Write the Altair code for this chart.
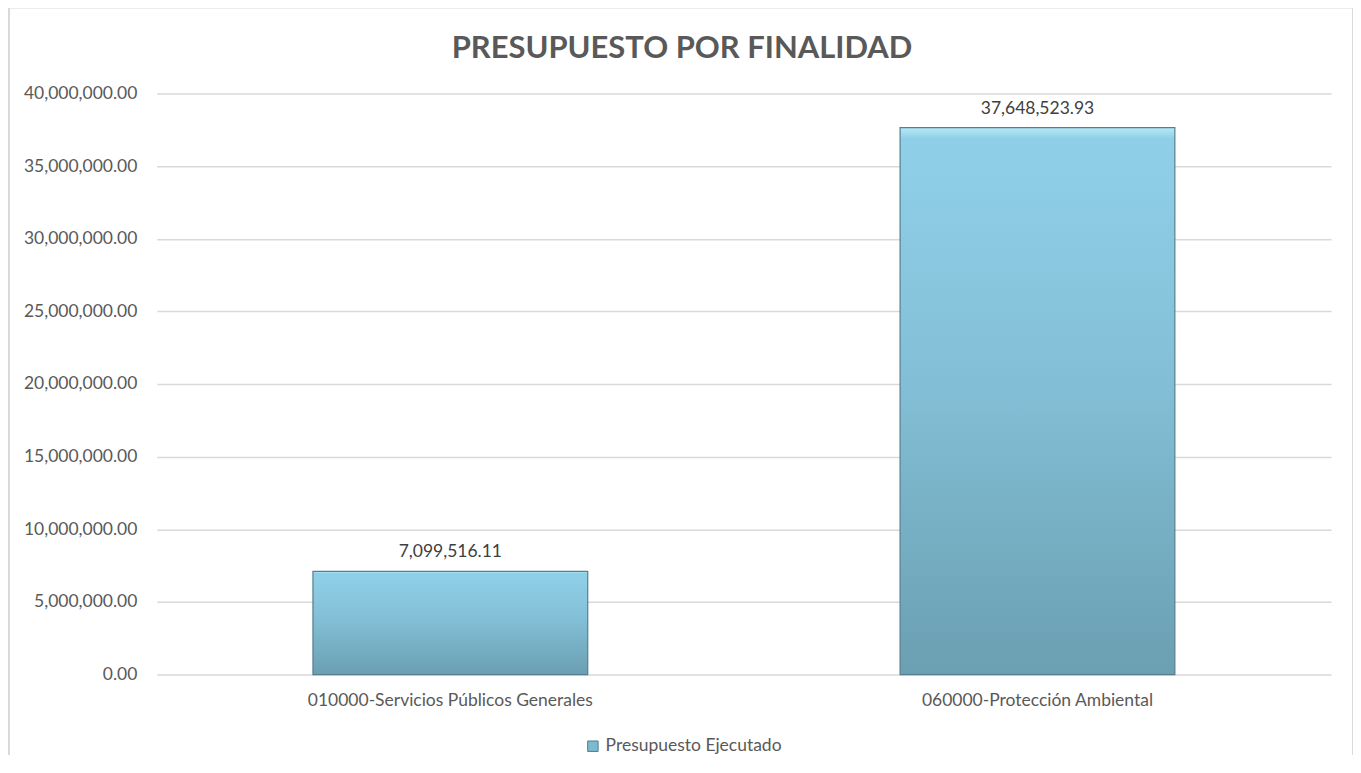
import altair as alt
import pandas as pd

categories = ["010000-Servicios Públicos Generales", "060000-Protección Ambiental"]
values = [7099516.11, 37648523.93]
series = ["Presupuesto Ejecutado", "Presupuesto Ejecutado"]
y_ticks = [0, 5000000, 10000000, 15000000, 20000000, 25000000, 30000000, 35000000, 40000000]
title_text = "PRESUPUESTO POR FINALIDAD"

df = pd.DataFrame({"categoria": categories, "valor": values, "serie": series})

FONT = "Lato"
FS = 17.5
W, H = 1176, 582

grad = alt.LinearGradient(
    gradient="linear", x1=0, y1=0, x2=0, y2=1,
    stops=[
        alt.GradientStop(color="#b5eaf7", offset=0),
        alt.GradientStop(color="#8fd0e8", offset=0.02),
        alt.GradientStop(color="#83c0d7", offset=0.45),
        alt.GradientStop(color="#6b9fb2", offset=1),
    ],
)

x = alt.X("categoria:N", sort=categories, title=None,
          scale=alt.Scale(paddingInner=0.532, paddingOuter=0.266),
          axis=alt.Axis(labelAngle=0, labelFontSize=FS, labelColor="#595959",
                        labelFont=FONT, domain=False, ticks=False, labelPadding=17,
                        labelLimit=600, grid=False))
y = alt.Y("valor:Q", title=None,
          scale=alt.Scale(domain=[0, 40000000], nice=False),
          axis=alt.Axis(values=y_ticks, format=",.2f", labelFontSize=FS,
                        labelColor="#595959", labelFont=FONT, domain=False,
                        ticks=False, labelPadding=20, gridColor="#d9d9d9",
                        gridWidth=1.5, labelLimit=300))

bars = alt.Chart(df).mark_bar(fill=grad, stroke="#557f90", strokeWidth=1.2).encode(
    x=x, y=y,
    color=alt.Color("serie:N", scale=alt.Scale(range=["#7db9cf"]),
                    legend=alt.Legend(title=None, orient="none", legendX=428, legendY=645,
                                      symbolType="square", symbolSize=110,
                                      symbolStrokeColor="#4f8092", symbolStrokeWidth=1,
                                      labelFontSize=FS, labelColor="#595959",
                                      labelFont=FONT, direction="horizontal",
                                      labelLimit=400, symbolOffset=0)),
)

labels = alt.Chart(df).mark_text(baseline="bottom", dy=-10, fontSize=FS,
                                 color="#404040", font=FONT).encode(
    x=alt.X("categoria:N", sort=categories),
    y="valor:Q",
    text=alt.Text("valor:Q", format=",.2f"),
)

title = alt.Chart(alt.Data(values=[{"t": title_text}])).mark_text(
    fontSize=31, fontWeight="bold", color="#595959", font=FONT,
    align="center", baseline="middle").encode(
    text="t:N", x=alt.value(526), y=alt.value(-44))

frame = alt.Chart(alt.Data(values=[{"a": 1}])).mark_rect(
    fill=None, stroke="#d9d9d9", strokeWidth=2).encode(
    x=alt.value(-148), x2=alt.value(W + 22), y=alt.value(-86), y2=alt.value(H + 120))

chart = alt.layer(frame, bars, labels, title).properties(
    width=W, height=H,
    background="white",
    padding={"left": 149, "top": 85, "right": 22, "bottom": 80},
    autosize=alt.AutoSizeParams(type="none"),
).configure_view(strokeWidth=0, stroke="transparent")

chart.save("out.html", embed_options={"renderer": "svg", "actions": False})
